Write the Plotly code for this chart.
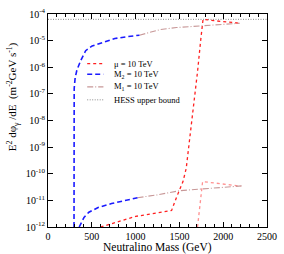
import plotly.graph_objects as go

# ---- data ----
mu_mass = [600, 800, 1000, 1244, 1411, 1467, 1504, 1541, 1578, 1633, 1670, 1707, 1744, 1770, 1900, 2050, 2190]
mu_flux = [1e-12, 1.6e-12, 2.5e-12, 3.4e-12, 4.2e-12, 1.3e-11, 2.5e-11, 5.1e-11, 1.6e-10, 5e-9, 4.2e-8, 6.8e-7, 1.1e-5, 6.3e-5, 5.6e-5, 5e-5, 4.5e-5]

mu2_mass = [1707, 1765, 2205]
mu2_flux = [1e-12, 5.1e-11, 3.4e-11]

m2_up_mass = [297, 299, 310, 330, 374, 430, 504, 615, 763, 900, 1044]
m2_up_flux = [1e-12, 1.6e-7, 4e-7, 7.9e-7, 1.8e-6, 4.2e-6, 6.3e-6, 8.3e-6, 1.2e-5, 1.4e-5, 1.6e-5]
m2_lo_mass = [356, 411, 467, 578, 726, 874, 1022]
m2_lo_flux = [1e-12, 2.3e-12, 3.6e-12, 5.5e-12, 7.6e-12, 1.0e-11, 1.26e-11]

m1_up_mass = [1044, 1281, 1467, 1763, 2022, 2189]
m1_up_flux = [1.6e-5, 2.6e-5, 3.1e-5, 3.6e-5, 4.1e-5, 4.5e-5]
m1_lo_mass = [1022, 1244, 1500, 2210]
m1_lo_flux = [1.26e-11, 1.6e-11, 2.3e-11, 3.5e-11]

hess_mass = [0, 2500]
hess_flux = [6.3e-5, 6.3e-5]

legend_labels = ["μ = 10 TeV", "M<sub>2</sub> = 10 TeV", "M<sub>1</sub> = 10 TeV", "HESS upper bound"]

x_ticks = [0, 500, 1000, 1500, 2000, 2500]
y_exps = list(range(-12, -3))

# ---- styles ----
RED = "#ff2020"
PINK = "#ff9090"
BLUE = "#1a1aff"
ROSY = "#c89898"
GRAY = "#8a8a8a"
styles = [
    dict(color=RED, width=1.3, dash="dot"),
    dict(color=BLUE, width=1.6, dash="5px,3px"),
    dict(color=ROSY, width=1.1, dash="6px,2px,1px,2px"),
    dict(color=GRAY, width=1, dash="1px,1.5px"),
]

fig = go.Figure()
fig.add_trace(go.Scatter(x=hess_mass, y=hess_flux, mode="lines", line=styles[3], showlegend=False))
fig.add_trace(go.Scatter(x=mu2_mass, y=mu2_flux, mode="lines",
                         line=dict(color=PINK, width=1.3, dash="dot"), showlegend=False))
fig.add_trace(go.Scatter(x=mu_mass, y=mu_flux, mode="lines", line=styles[0], showlegend=False))
fig.add_trace(go.Scatter(x=m1_up_mass + [None] + m1_lo_mass, y=m1_up_flux + [None] + m1_lo_flux,
                         mode="lines", line=styles[2], showlegend=False, connectgaps=False))
fig.add_trace(go.Scatter(x=m2_up_mass + [None] + m2_lo_mass, y=m2_up_flux + [None] + m2_lo_flux,
                         mode="lines", line=styles[1], showlegend=False, connectgaps=False))

# manual compact legend
FONT = "Liberation Serif, Times New Roman, serif"
leg_y = [0.767, 0.717, 0.658, 0.597]
shapes = []
annotations = []
for lab, st, yy in zip(legend_labels, styles, leg_y):
    shapes.append(dict(type="line", xref="paper", yref="paper", x0=0.179, x1=0.253, y0=yy, y1=yy,
                       line=st))
    annotations.append(dict(xref="paper", yref="paper", x=0.298, y=yy, text=lab, showarrow=False,
                            xanchor="left", yanchor="middle", borderpad=0,
                            font=dict(family=FONT, size=8.5, color="black")))

annotations.append(dict(xref="paper", yref="paper", x=-0.16, y=0.614,
                        text="E<sup>2</sup> dφ<sub>γ</sub> /dE  (m<sup>-2</sup>GeV s<sup>-1</sup>)",
                        textangle=-90, showarrow=False, xanchor="center", yanchor="middle",
                        font=dict(family=FONT, size=11, color="black")))
annotations.append(dict(xref="paper", yref="paper", x=0.5, y=-0.097, text="Neutralino Mass (GeV)",
                        showarrow=False, xanchor="center", yanchor="middle", borderpad=0,
                        font=dict(family=FONT, size=11.5, color="black")))

fig.update_layout(
    width=284, height=254,
    margin=dict(l=48, r=11, t=7, b=27),
    paper_bgcolor="white", plot_bgcolor="white",
    font=dict(family=FONT, size=10, color="black"),
    shapes=shapes, annotations=annotations,
    showlegend=False,
)
fig.update_xaxes(
    range=[0, 2500], tickvals=x_ticks, ticktext=[str(v) for v in x_ticks],
    ticks="inside", ticklen=5, tickwidth=1, tickcolor="black",
    minor=dict(dtick=100, ticks="inside", ticklen=3, tickcolor="black"),
    showline=True, linecolor="black", linewidth=1, mirror="ticks",
    showgrid=False, zeroline=False,
    tickfont=dict(family=FONT, size=10),
)
fig.update_yaxes(
    type="log", range=[-12, -4],
    tickvals=[10.0 ** e for e in y_exps], ticktext=[f"10<sup>{e}</sup>" for e in y_exps],
    ticks="inside", ticklen=5, tickwidth=1, tickcolor="black",
    showline=True, linecolor="black", linewidth=1, mirror="ticks",
    showgrid=False, zeroline=False,
    tickfont=dict(family=FONT, size=10),
)
fig.write_html("out.html", config={"displayModeBar": False},
               post_script="document.body.style.margin='0';")
